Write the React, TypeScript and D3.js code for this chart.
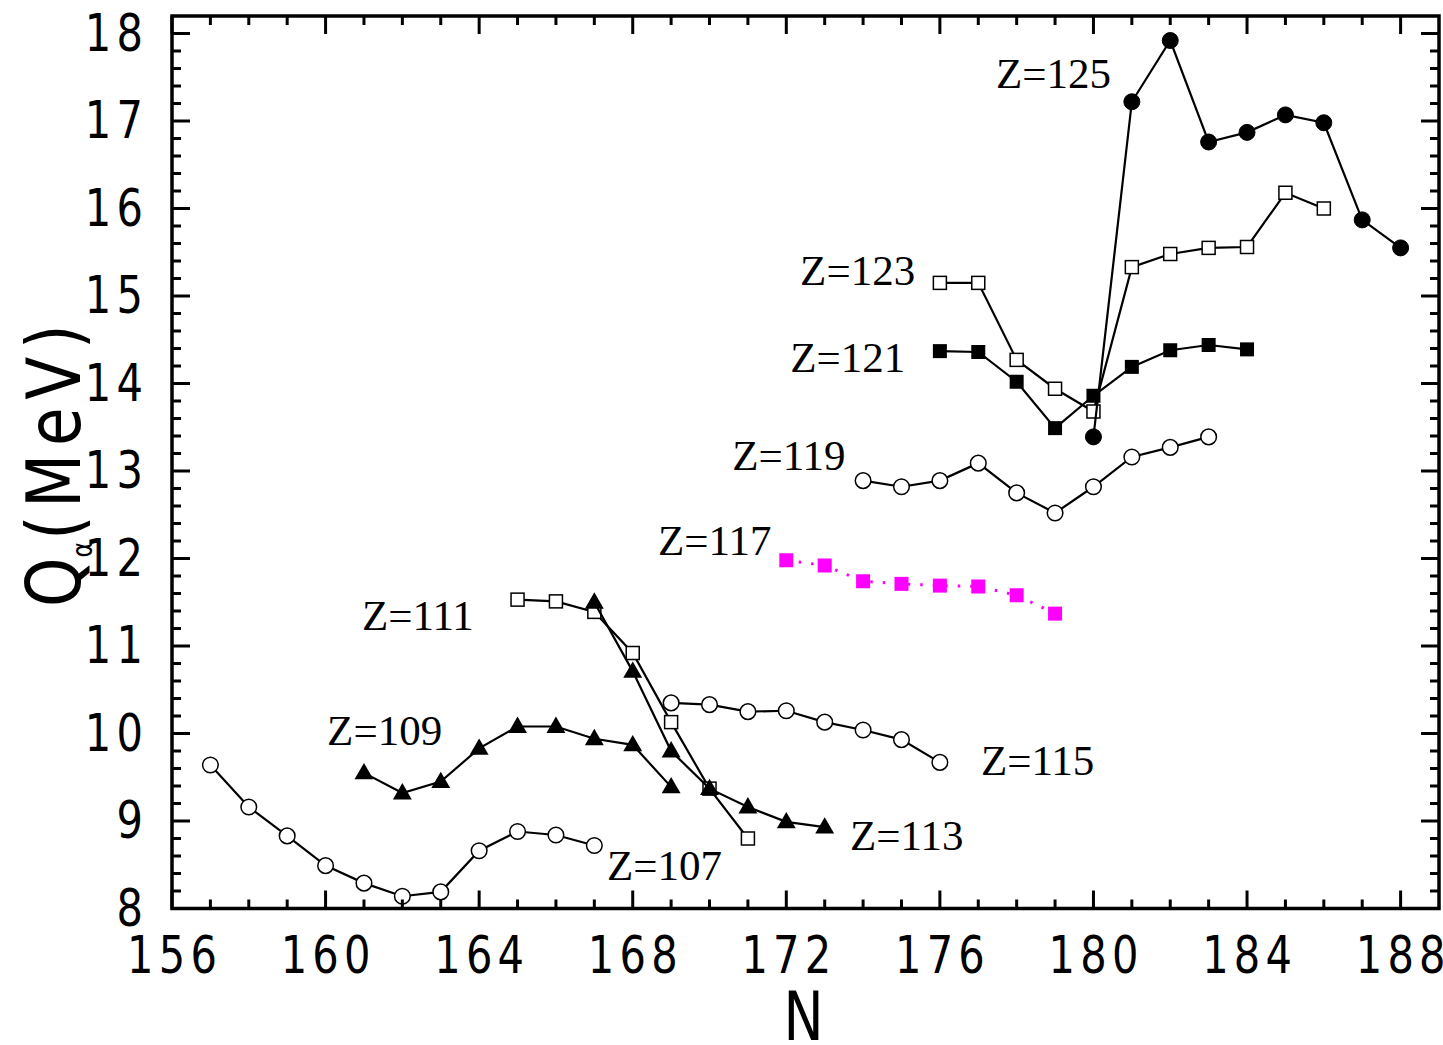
import React from 'react';
import * as d3 from 'd3';

// Alpha-decay Q values (MeV) versus neutron number N for odd-Z superheavy chains
const Z107_N = [157, 158, 159, 160, 161, 162, 163, 164, 165, 166, 167];
const Z107_Q = [9.64, 9.16, 8.83, 8.49, 8.29, 8.14, 8.19, 8.66, 8.88, 8.84, 8.72];

const Z109_N = [161, 162, 163, 164, 165, 166, 167, 168, 169];
const Z109_Q = [9.55, 9.32, 9.45, 9.83, 10.08, 10.08, 9.94, 9.87, 9.39];

const Z111_N = [165, 166, 167, 168, 169, 170, 171];
const Z111_Q = [11.53, 11.51, 11.39, 10.92, 10.13, 9.37, 8.8];

const Z113_N = [167, 168, 169, 170, 171, 172, 173];
const Z113_Q = [11.5, 10.71, 9.8, 9.37, 9.16, 8.99, 8.93];

const Z115_N = [169, 170, 171, 172, 173, 174, 175, 176];
const Z115_Q = [10.35, 10.33, 10.25, 10.26, 10.13, 10.04, 9.93, 9.67];

const Z117_N = [172, 173, 174, 175, 176, 177, 178, 179];
const Z117_Q = [11.98, 11.92, 11.74, 11.71, 11.69, 11.68, 11.58, 11.37];

const Z119_N = [174, 175, 176, 177, 178, 179, 180, 181, 182, 183];
const Z119_Q = [12.89, 12.82, 12.89, 13.09, 12.75, 12.52, 12.82, 13.16, 13.27, 13.39];

const Z121_N = [176, 177, 178, 179, 180, 181, 182, 183, 184];
const Z121_Q = [14.37, 14.36, 14.02, 13.49, 13.86, 14.19, 14.38, 14.44, 14.39];

const Z123_N = [176, 177, 178, 179, 180, 181, 182, 183, 184, 185, 186];
const Z123_Q = [15.15, 15.15, 14.27, 13.94, 13.68, 15.33, 15.48, 15.55, 15.56, 16.18, 16.0];

const Z125_N = [180, 181, 182, 183, 184, 185, 186, 187, 188];
const Z125_Q = [13.39, 17.22, 17.92, 16.76, 16.87, 17.07, 16.98, 15.87, 15.55];

// Chain labels: text with anchor in (N, Q) data units
const LABEL_TEXT = ['Z=107', 'Z=109', 'Z=111', 'Z=113', 'Z=115', 'Z=117', 'Z=119', 'Z=121', 'Z=123', 'Z=125'];
const LABEL_N = [167.33, 160.04, 160.95, 173.66, 177.07, 168.66, 170.59, 172.1, 172.36, 177.46];
const LABEL_Q = [8.33, 9.87, 11.18, 8.67, 9.53, 12.04, 13.01, 14.13, 15.13, 17.38];

const X_TICKS = [156, 160, 164, 168, 172, 176, 180, 184, 188];
const Y_TICKS = [8, 9, 10, 11, 12, 13, 14, 15, 16, 17, 18];

type Marker = 'circleOpen' | 'circleFilled' | 'squareOpen' | 'squareFilled' | 'triangleFilled';

interface Series {
  n: number[];
  q: number[];
  marker: Marker;
  color: string;
  dotted?: boolean;
}

const SERIES: Series[] = [
  { n: Z107_N, q: Z107_Q, marker: 'circleOpen', color: '#000' },
  { n: Z109_N, q: Z109_Q, marker: 'triangleFilled', color: '#000' },
  { n: Z111_N, q: Z111_Q, marker: 'squareOpen', color: '#000' },
  { n: Z113_N, q: Z113_Q, marker: 'triangleFilled', color: '#000' },
  { n: Z115_N, q: Z115_Q, marker: 'circleOpen', color: '#000' },
  { n: Z117_N, q: Z117_Q, marker: 'squareFilled', color: '#ff00ff', dotted: true },
  { n: Z119_N, q: Z119_Q, marker: 'circleOpen', color: '#000' },
  { n: Z121_N, q: Z121_Q, marker: 'squareFilled', color: '#000' },
  { n: Z123_N, q: Z123_Q, marker: 'squareOpen', color: '#000' },
  { n: Z125_N, q: Z125_Q, marker: 'circleFilled', color: '#000' },
];

const W = 1443;
const H = 1045;
const LEFT = 172;
const RIGHT = 1439;
const TOP = 16;
const BOTTOM = 908.5;

const AXIS_FONT = '"DejaVu Sans", sans-serif';
const LABEL_FONT = '"Liberation Serif", "Times New Roman", serif';
const SQUEEZE = 0.8;

const triPath = d3.symbol().type(d3.symbolTriangle).size(155)() as string;

function MarkerShape({ x, y, marker, color }: { x: number; y: number; marker: Marker; color: string }) {
  switch (marker) {
    case 'circleOpen':
      return <circle cx={x} cy={y} r={7.8} fill="#fff" stroke="#000" strokeWidth={1.5} />;
    case 'circleFilled':
      return <circle cx={x} cy={y} r={8} fill={color} stroke={color} strokeWidth={1} />;
    case 'squareOpen':
      return <rect x={x - 6.5} y={y - 6.5} width={13} height={13} fill="#fff" stroke="#000" strokeWidth={1.5} />;
    case 'squareFilled':
      return <rect x={x - 7} y={y - 7} width={14} height={14} fill={color} />;
    case 'triangleFilled':
      return <path d={triPath} transform={`translate(${x},${y + 1})`} fill={color} />;
  }
}

// Narrow sans text: horizontally squeezed glyphs with open spacing
function NarrowText({
  x,
  y,
  size,
  anchor,
  spacing,
  children,
}: {
  x: number;
  y: number;
  size: number;
  anchor: 'start' | 'middle' | 'end';
  spacing: number;
  children: React.ReactNode;
}) {
  return (
    <text
      transform={`translate(${x},${y}) scale(${SQUEEZE},1)`}
      textAnchor={anchor}
      fontFamily={AXIS_FONT}
      fontSize={size}
      letterSpacing={spacing}
      fill="#000"
    >
      {children}
    </text>
  );
}

export default function App() {
  const x = d3.scaleLinear().domain([156, 189]).range([LEFT, RIGHT]);
  const y = d3.scaleLinear().domain([8, 18.2]).range([BOTTOM, TOP]);

  const xMinor = d3.range(157, 189, 1).filter((v) => (v - 156) % 4 !== 0);
  const yMinor = d3.range(8.2, 18.2, 0.2).filter((v) => Math.abs(v - Math.round(v)) > 1e-6);

  const line = d3
    .line<[number, number]>()
    .x((d) => x(d[0]))
    .y((d) => y(d[1]));

  const MAJ = 18;
  const MIN = 9;
  const tickStroke = 3;
  const LS = 6.5;

  return (
    <svg width={W} height={H} style={{ position: 'absolute', left: 0, top: 0, background: '#fff' }}>
      <rect x={0} y={0} width={W} height={H} fill="#fff" />

      {/* series lines and markers */}
      {SERIES.map((s, i) => {
        const pts = s.n.map((n, k) => [n, s.q[k]] as [number, number]);
        return (
          <g key={i}>
            <path
              d={line(pts) as string}
              fill="none"
              stroke={s.color}
              strokeWidth={s.dotted ? 3 : 2.2}
              strokeDasharray={s.dotted ? '2.5,10' : undefined}
            />
            {pts.map((p, k) => (
              <MarkerShape key={k} x={x(p[0])} y={y(p[1])} marker={s.marker} color={s.color} />
            ))}
          </g>
        );
      })}

      {/* chain labels */}
      {LABEL_TEXT.map((t, i) => (
        <text key={t} x={x(LABEL_N[i])} y={y(LABEL_Q[i])} fontFamily={LABEL_FONT} fontSize={43} fill="#000">
          {t}
        </text>
      ))}

      {/* frame */}
      <rect x={LEFT} y={TOP} width={RIGHT - LEFT} height={BOTTOM - TOP} fill="none" stroke="#000" strokeWidth={3.5} />

      {/* x ticks, bottom and top, pointing inward */}
      {X_TICKS.map((v) => (
        <g key={`xM${v}`}>
          <line x1={x(v)} x2={x(v)} y1={BOTTOM} y2={BOTTOM - MAJ} stroke="#000" strokeWidth={tickStroke} />
          <line x1={x(v)} x2={x(v)} y1={TOP} y2={TOP + MAJ} stroke="#000" strokeWidth={tickStroke} />
          <NarrowText x={x(v) + (LS * SQUEEZE) / 2} y={973} size={52} anchor="middle" spacing={LS}>
            {v}
          </NarrowText>
        </g>
      ))}
      {xMinor.map((v) => (
        <g key={`xm${v}`}>
          <line x1={x(v)} x2={x(v)} y1={BOTTOM} y2={BOTTOM - MIN} stroke="#000" strokeWidth={tickStroke} />
          <line x1={x(v)} x2={x(v)} y1={TOP} y2={TOP + MIN} stroke="#000" strokeWidth={tickStroke} />
        </g>
      ))}

      {/* y ticks, left and right, pointing inward */}
      {Y_TICKS.map((v) => (
        <g key={`yM${v}`}>
          <line x1={LEFT} x2={LEFT + MAJ} y1={y(v)} y2={y(v)} stroke="#000" strokeWidth={tickStroke} />
          <line x1={RIGHT} x2={RIGHT - MAJ} y1={y(v)} y2={y(v)} stroke="#000" strokeWidth={tickStroke} />
          <NarrowText x={143 + LS * SQUEEZE} y={y(v) + 17} size={52} anchor="end" spacing={LS}>
            {v}
          </NarrowText>
        </g>
      ))}
      {yMinor.map((v) => (
        <g key={`ym${v.toFixed(1)}`}>
          <line x1={LEFT} x2={LEFT + MIN} y1={y(v)} y2={y(v)} stroke="#000" strokeWidth={tickStroke} />
          <line x1={RIGHT} x2={RIGHT - MIN} y1={y(v)} y2={y(v)} stroke="#000" strokeWidth={tickStroke} />
        </g>
      ))}

      {/* axis titles */}
      <NarrowText x={(LEFT + RIGHT) / 2 - 2} y={1040} size={67} anchor="middle" spacing={0}>
        N
      </NarrowText>
      <text
        transform={`translate(80,607) rotate(-90) scale(${SQUEEZE + 0.05},1)`}
        textAnchor="start"
        fontFamily={AXIS_FONT}
        fontSize={74}
        fill="#000"
      >
        <tspan>Q</tspan>
        <tspan fontSize={28} dy={12}>α</tspan>
        <tspan dy={-12} dx={2} letterSpacing={9}>(MeV)</tspan>
      </text>
    </svg>
  );
}
